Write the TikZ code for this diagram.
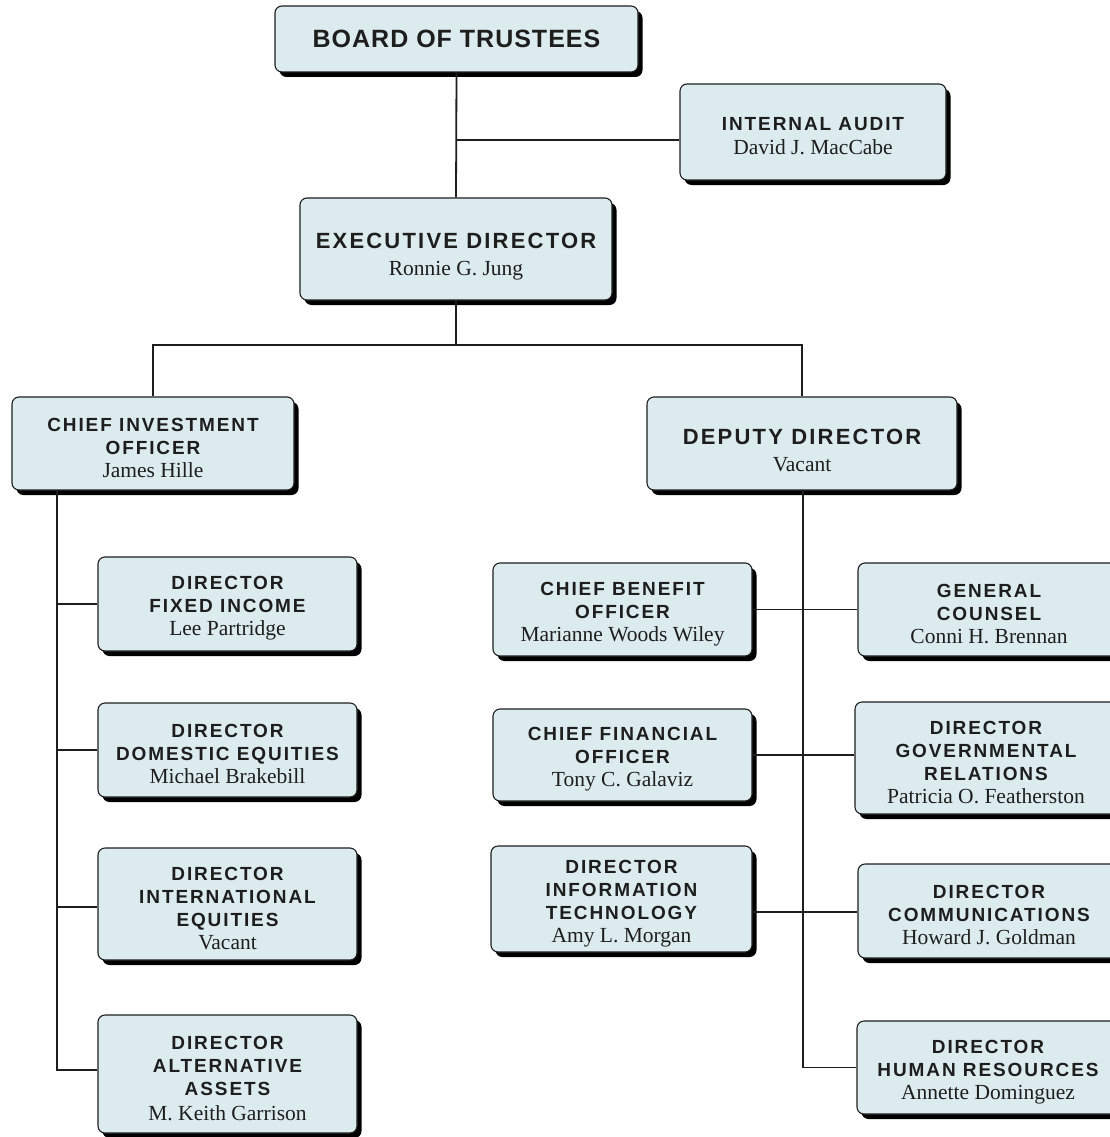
\documentclass[tikz,border=0pt]{standalone}
\usepackage{fontspec}
\usetikzlibrary{shadows}
\newfontfamily\hfont{Liberation Sans}[LetterSpace=10]
\newfontfamily\bfont{Liberation Sans}[LetterSpace=4]
\newfontfamily\sfont{Liberation Serif}
\definecolor{boxfill}{HTML}{DCEBEE}
\definecolor{inkc}{HTML}{1E1E1E}
\newcommand\HD[1]{{\hfont\bfseries\fontsize{19}{23}\selectfont #1}}
\newcommand\HDB[1]{{\hfont\bfseries\fontsize{22}{26}\selectfont #1}}
\newcommand\NM[1]{{\sfont\fontsize{21.5}{23}\selectfont #1}}
\newcommand\FR{\rule{0pt}{22pt}}
\newcommand\FRB{\rule{0pt}{30pt}}
\tikzset{
  orgbox/.style={draw=inkc, line width=1.1pt, fill=boxfill, rounded corners=7pt,
    drop shadow={shadow xshift=4.5pt, shadow yshift=-5pt, fill=black, opacity=1},
    align=center, inner sep=0pt, text=inkc, font=\fontsize{19}{23}\selectfont},
  link/.style={draw=inkc, line width=1.8pt}
}
\begin{document}
\begin{tikzpicture}[x=1pt,y=-1pt]
\useasboundingbox (0,0) rectangle (1110,1137);
\fill[white] (0,0) rectangle (1110,1137);

\node[orgbox, minimum width=363pt, minimum height=66pt] (board) at (456.5,39)
  {{\bfont\bfseries\fontsize{25}{28}\selectfont BOARD OF TRUSTEES}};
\node[orgbox, minimum width=266pt, minimum height=96pt] (audit) at (813,132)
  {\FR\HD{INTERNAL AUDIT}\\[1pt]\NM{David J. MacCabe}};
\node[orgbox, minimum width=312pt, minimum height=102pt] (exec) at (456,249)
  {\FRB\HDB{EXECUTIVE DIRECTOR}\\[4pt]\NM{Ronnie G. Jung}};
\node[orgbox, minimum width=282pt, minimum height=93pt] (cio) at (153,443.5)
  {\FR\HD{CHIEF INVESTMENT}\\\HD{OFFICER}\\\NM{James Hille}};
\node[orgbox, minimum width=310pt, minimum height=93pt] (dep) at (802,443.5)
  {\FRB\HDB{DEPUTY DIRECTOR}\\[4pt]\NM{Vacant}};

\node[orgbox, minimum width=259pt, minimum height=94pt] (fi) at (227.5,604)
  {\FR\HD{DIRECTOR}\\\HD{FIXED INCOME}\\\NM{Lee Partridge}};
\node[orgbox, minimum width=259pt, minimum height=94pt] (de) at (227.5,750)
  {\FR\HD{DIRECTOR}\\\HD{DOMESTIC EQUITIES}\\\NM{Michael Brakebill}};
\node[orgbox, minimum width=259pt, minimum height=112pt] (ie) at (227.5,904)
  {\FR\HD{DIRECTOR}\\\HD{INTERNATIONAL}\\\HD{EQUITIES}\\\NM{Vacant}};
\node[orgbox, minimum width=259pt, minimum height=118pt] (aa) at (227.5,1074)
  {\FR\HD{DIRECTOR}\\\HD{ALTERNATIVE}\\\HD{ASSETS}\\[2pt]\NM{M. Keith Garrison}};

\node[orgbox, minimum width=259pt, minimum height=93pt] (cbo) at (622.5,609.5)
  {\FR\HD{CHIEF BENEFIT}\\\HD{OFFICER}\\\NM{Marianne Woods Wiley}};
\node[orgbox, minimum width=259pt, minimum height=92pt] (cfo) at (622.5,755)
  {\FR\HD{CHIEF FINANCIAL}\\\HD{OFFICER}\\\NM{Tony C. Galaviz}};
\node[orgbox, minimum width=261pt, minimum height=106pt] (it) at (621.5,899)
  {\FR\HD{DIRECTOR}\\\HD{INFORMATION}\\\HD{TECHNOLOGY}\\\NM{Amy L. Morgan}};

\node[orgbox, minimum width=262pt, minimum height=93pt] (gc) at (989,609.5)
  {\FR\HD{GENERAL}\\\HD{COUNSEL}\\\NM{Conni H. Brennan}};
\node[orgbox, minimum width=262pt, minimum height=112pt] (gr) at (986,758)
  {\FR\HD{DIRECTOR}\\\HD{GOVERNMENTAL}\\\HD{RELATIONS}\\\NM{Patricia O. Featherston}};
\node[orgbox, minimum width=262pt, minimum height=94pt] (comm) at (989,911)
  {\FR\HD{DIRECTOR}\\\HD{COMMUNICATIONS}\\\NM{Howard J. Goldman}};
\node[orgbox, minimum width=262pt, minimum height=93pt] (hr) at (988,1067.5)
  {\FR\HD{DIRECTOR}\\\HD{HUMAN RESOURCES}\\\NM{Annette Dominguez}};

% junctions
\coordinate (ja) at (456.5,140);
\coordinate (jb) at (456,345);
\coordinate (sl) at (57,0);
\coordinate (sr) at (803,0);
\coordinate (l1) at (57,604);
\coordinate (l2) at (57,750);
\coordinate (l3) at (57,907);
\coordinate (l4) at (57,1070);
\coordinate (r1) at (803,609.5);
\coordinate (r2) at (803,755);
\coordinate (r3) at (803,912);

\draw[link] (board.south) -- (exec.north);
\draw[link] (ja) -- (ja -| audit.west);
\draw[link] (exec.south) -- (jb);
\draw[link] (cio.north) |- (jb) -| (dep.north);

\draw[link] (cio.south -| sl) -- (l4) -- (l4 -| aa.west);
\draw[link] (l1) -- (l1 -| fi.west);
\draw[link] (l2) -- (l2 -| de.west);
\draw[link] (l3) -- (l3 -| ie.west);

\draw[link] (dep.south -| sr) |- (hr.west);
\draw[link] (r1 -| cbo.east) -- (r1 -| gc.west);
\draw[link] (r2 -| cfo.east) -- (r2 -| gr.west);
\draw[link] (r3 -| it.east) -- (r3 -| comm.west);
\end{tikzpicture}
\end{document}
